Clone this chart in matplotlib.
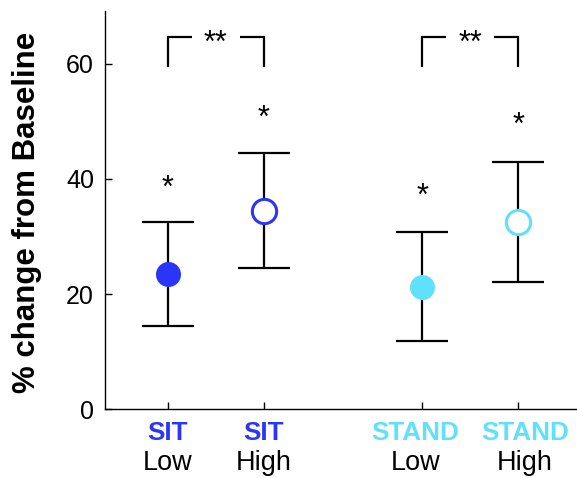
import matplotlib
matplotlib.use("Agg")
import matplotlib.pyplot as plt

plt.rcParams['font.family'] = ['Liberation Sans', 'DejaVu Sans']

groups = ["SIT", "SIT", "STAND", "STAND"]
levels = ["Low", "High", "Low", "High"]
positions = [1, 2, 3.65, 4.65]
means = [23.5, 34.5, 21.3, 32.5]
errors = [9.0, 9.9, 9.5, 10.4]
filled = [True, False, True, False]
star_y = [38.2, 50.4, 36.8, 49.1]
brackets = [(1, 2), (3.65, 4.65)]
bracket_top = 64.6
bracket_bottom = 59.4

SIT_COLOR = "#2b35f7"
STAND_COLOR = "#5fe1fc"
colors = [SIT_COLOR, SIT_COLOR, STAND_COLOR, STAND_COLOR]
label_shift_pt = [0, 0, -5, 5]

fig = plt.figure(figsize=(5.77, 4.78), dpi=100)
ax = fig.add_axes([0.182, 0.1437, 0.818, 0.833])

for x, m, e, f, c in zip(positions, means, errors, filled, colors):
    ax.errorbar([x], [m], yerr=[e], fmt='none', ecolor='black', elinewidth=1.6,
                capsize=19, capthick=1.6, zorder=2)
    ax.plot([x], [m], marker='o', markersize=18 if f else 17.5,
            markerfacecolor=c if f else 'white', markeredgecolor=c,
            markeredgewidth=0 if f else 2.2, linestyle='none', zorder=3)

for x, s in zip(positions, star_y):
    ax.text(x, s, "*", ha='center', va='center', fontsize=22)

for a, b in brackets:
    w = (b - a) * 0.25
    ax.plot([a, a, a + w], [bracket_bottom, bracket_top, bracket_top], color='black', lw=1.6,
            solid_capstyle='butt', solid_joinstyle='miter')
    ax.plot([b - w, b, b], [bracket_top, bracket_top, bracket_bottom], color='black', lw=1.6,
            solid_capstyle='butt', solid_joinstyle='miter')
    ax.text((a + b) / 2, bracket_top - 1.2, "**", ha='center', va='center', fontsize=22)

ax.set_xlim(0.347, 5.264)
ax.set_ylim(0, 69.1)
ax.set_yticks([0, 20, 40, 60])
ax.set_xticks(positions)
ax.set_xticklabels([])
ax.tick_params(axis='both', direction='in', length=5, width=1, labelsize=18)
ax.tick_params(axis='y', pad=8)

for x, g, l, c, dx in zip(positions, groups, levels, colors, label_shift_pt):
    ax.annotate(g, xy=(x, 0), xycoords=('data', 'axes fraction'), xytext=(dx, -17.3),
                textcoords='offset points', ha='center', va='center', fontsize=18.8,
                fontweight='bold', color=c)
    ax.annotate(l, xy=(x, 0), xycoords=('data', 'axes fraction'), xytext=(dx, -39),
                textcoords='offset points', ha='center', va='center', fontsize=19.5,
                color='black')

ax.spines['top'].set_visible(False)
ax.spines['right'].set_visible(False)
for s in ['left', 'bottom']:
    ax.spines[s].set_linewidth(1)

ax.set_ylabel("% change from Baseline", fontsize=22.5, fontweight='bold')
ax.yaxis.set_label_coords(-0.133, 0.495)

fig.savefig("out.png", dpi=100)
